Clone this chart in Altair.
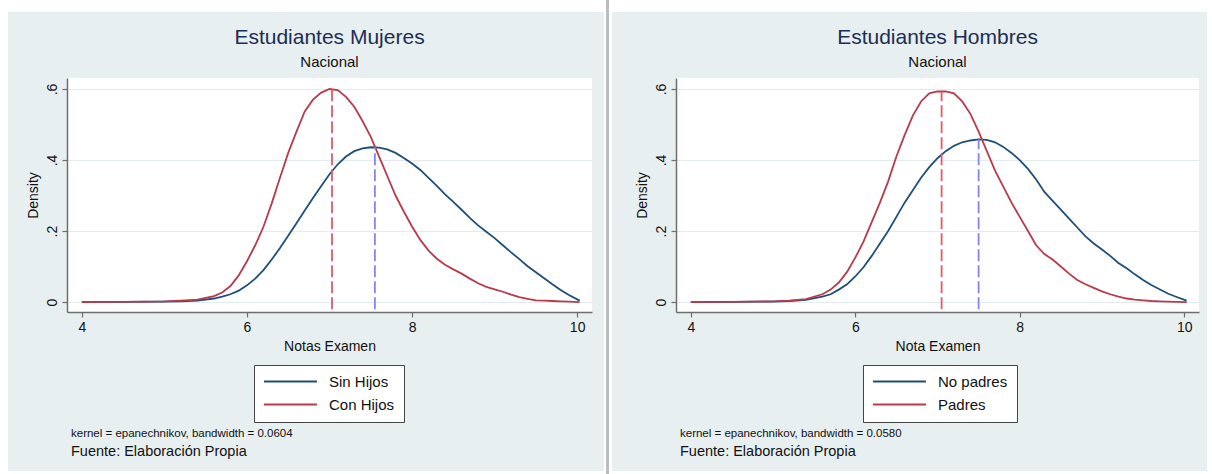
import altair as alt
import pandas as pd

# ---------------- data ----------------
x_grid = [4.0, 4.5, 5.0, 5.2, 5.4, 5.6, 5.7, 5.8, 5.9,
          6.0, 6.1, 6.2, 6.3, 6.4, 6.5, 6.6, 6.7, 6.8, 6.9,
          7.0, 7.1, 7.2, 7.3, 7.4, 7.5, 7.6, 7.7, 7.8, 7.9,
          8.0, 8.1, 8.2, 8.3, 8.4, 8.5, 8.6, 8.7, 8.8, 8.9,
          9.0, 9.1, 9.2, 9.3, 9.4, 9.5, 9.6, 9.7, 9.8, 9.9, 10.03]

# Estudiantes Mujeres
muj_sin_hijos = [0.0, 0.0005, 0.001, 0.002, 0.004, 0.010, 0.015, 0.022, 0.032,
                 0.047, 0.066, 0.090, 0.120, 0.152, 0.187, 0.222, 0.258, 0.293, 0.327,
                 0.360, 0.388, 0.410, 0.425, 0.433, 0.436, 0.435, 0.430, 0.420, 0.406,
                 0.390, 0.372, 0.350, 0.327, 0.303, 0.282, 0.260, 0.237, 0.216, 0.198,
                 0.180, 0.160, 0.140, 0.121, 0.101, 0.084, 0.067, 0.050, 0.034, 0.020, 0.004]
muj_con_hijos = [0.0, 0.0005, 0.002, 0.004, 0.007, 0.017, 0.027, 0.045, 0.075,
                 0.115, 0.160, 0.212, 0.278, 0.350, 0.420, 0.480, 0.537, 0.570, 0.590,
                 0.600, 0.597, 0.578, 0.550, 0.510, 0.465, 0.410, 0.355, 0.300, 0.255,
                 0.213, 0.175, 0.145, 0.122, 0.105, 0.092, 0.080, 0.066, 0.053, 0.043,
                 0.036, 0.029, 0.021, 0.014, 0.009, 0.005, 0.004, 0.003, 0.002, 0.001, 0.0]

# Estudiantes Hombres
hom_no_padres = [0.0, 0.0005, 0.0015, 0.003, 0.006, 0.015, 0.022, 0.035, 0.050,
                 0.072, 0.098, 0.130, 0.165, 0.200, 0.240, 0.280, 0.315, 0.350, 0.380,
                 0.405, 0.425, 0.440, 0.450, 0.455, 0.458, 0.457, 0.450, 0.437, 0.420,
                 0.400, 0.375, 0.345, 0.310, 0.285, 0.260, 0.235, 0.210, 0.185, 0.165,
                 0.148, 0.130, 0.110, 0.095, 0.078, 0.062, 0.048, 0.036, 0.024, 0.015, 0.004]
hom_padres = [0.0, 0.0005, 0.002, 0.004, 0.008, 0.022, 0.035, 0.055, 0.085,
              0.125, 0.170, 0.225, 0.280, 0.340, 0.410, 0.470, 0.525, 0.565, 0.588,
              0.593, 0.593, 0.588, 0.565, 0.530, 0.480, 0.425, 0.370, 0.325, 0.280,
              0.240, 0.200, 0.160, 0.135, 0.120, 0.100, 0.080, 0.062, 0.050, 0.040,
              0.030, 0.022, 0.015, 0.010, 0.007, 0.005, 0.003, 0.002, 0.001, 0.0005, 0.0]

# vertical dashed reference lines: (x position, top of line)
muj_lines_x = [7.55, 7.03]
muj_lines_top = [0.436, 0.602]
hom_lines_x = [7.50, 7.05]
hom_lines_top = [0.458, 0.593]
line_bottom = -0.02

x_ticks = [4, 6, 8, 10]
y_ticks = [0, 0.2, 0.4, 0.6]

panels = [
    dict(title="Estudiantes Mujeres", subtitle="Nacional", xtitle="Notas Examen",
         names=["Sin Hijos", "Con Hijos"], series=[muj_sin_hijos, muj_con_hijos],
         lx=muj_lines_x, ltop=muj_lines_top,
         note="kernel = epanechnikov, bandwidth = 0.0604", width=525),
    dict(title="Estudiantes Hombres", subtitle="Nacional", xtitle="Nota Examen",
         names=["No padres", "Padres"], series=[hom_no_padres, hom_padres],
         lx=hom_lines_x, ltop=hom_lines_top,
         note="kernel = epanechnikov, bandwidth = 0.0580", width=523),
]
source_text = "Fuente: Elaboración Propia"

# ---------------- style ----------------
FONT = "Liberation Sans"
BG = "#e8eff1"
CURVE_COLORS = ["#1f4f78", "#b83a4b"]
DASH_COLORS = ["#8585f2", "#e85868"]
AXIS_GRAY = "#6e6e6e"
H = 234


def panel(p, decorate=False):
    w = p["width"]
    rows = []
    for name, ys in zip(p["names"], p["series"]):
        for xv, yv in zip(x_grid, ys):
            rows.append({"x": xv, "d": yv, "serie": name})
    df = pd.DataFrame(rows)

    xs = alt.Scale(domain=[3.82, 10.18], nice=False, zero=False)
    ys = alt.Scale(domain=[-0.028, 0.631], nice=False, zero=False)

    curves = alt.Chart(df).mark_line(strokeWidth=1.8, clip=True).encode(
        x=alt.X("x:Q", scale=xs, axis=alt.Axis(
            values=x_ticks, format="d", title=p["xtitle"], grid=False,
            domainColor=AXIS_GRAY, domainWidth=1.5, tickColor=AXIS_GRAY,
            tickWidth=1.2, tickSize=5, labelFont=FONT, labelFontSize=14,
            labelColor="#111", labelPadding=3, titleFont=FONT, titleFontSize=14,
            titleFontWeight="normal", titleColor="#111", titlePadding=5)),
        y=alt.Y("d:Q", scale=ys, axis=alt.Axis(
            values=y_ticks, title="Density", labelAngle=270,
            labelExpr="datum.value == 0 ? '0' : replace(format(datum.value, '.1f'), '0.', '.')",
            grid=True, gridColor="#e3ebee", gridWidth=1,
            domainColor=AXIS_GRAY, domainWidth=1.5, tickColor=AXIS_GRAY,
            tickWidth=1.2, tickSize=5, labelFont=FONT, labelFontSize=14,
            labelColor="#111", labelPadding=3, titleFont=FONT, titleFontSize=14,
            titleFontWeight="normal", titleColor="#111", titlePadding=5)),
        color=alt.Color("serie:N", sort=p["names"],
                        scale=alt.Scale(domain=p["names"], range=CURVE_COLORS),
                        legend=alt.Legend(
                            orient="none", legendX=187, legendY=287, title=None,
                            symbolType="stroke", symbolSize=2809, symbolStrokeWidth=2,
                            clipHeight=15,
                            labelFont=FONT, labelFontSize=15, labelColor="#111",
                            strokeColor="#444", fillColor="white", padding=9,
                            rowPadding=7, labelOffset=11, direction="vertical")),
        order="x:Q",
    )

    layers = []
    if decorate:
        one = pd.DataFrame({"k": [0]})
        # invisible rectangle spanning the whole canvas (defines the page size)
        layers.append(alt.Chart(one).mark_rect(opacity=0).encode(
            x=alt.value(-67), x2=alt.value(1145), y=alt.value(-78), y2=alt.value(396)))
        for (x1, x2, y1, y2, c) in [(-67, 1145, -78, -66, "white"),
                                     (-67, -59, -78, 396, "white"),
                                     (1140, 1145, -78, 396, "white"),
                                     (-67, 1145, 393, 396, "white"),
                                     (537, 545, -78, 396, "white"),
                                     (539, 542, -78, 396, "#b9bdbe")]:
            layers.append(alt.Chart(one).mark_rect(color=c).encode(
                x=alt.value(x1), x2=alt.value(x2), y=alt.value(y1), y2=alt.value(y2)))

    layers.append(curves)

    for i in range(2):
        ldf = pd.DataFrame({"x": [p["lx"][i]], "y0": [line_bottom], "y1": [p["ltop"][i]]})
        layers.append(alt.Chart(ldf).mark_rule(
            color=DASH_COLORS[i], strokeWidth=1.8, strokeDash=[12, 4]).encode(
            x="x:Q", y="y0:Q", y2="y1:Q"))

    tdf = pd.DataFrame({"t": [p["title"]], "s": [p["subtitle"]], "n": [p["note"]],
                        "f": [source_text]})
    layers.append(alt.Chart(tdf).mark_text(
        font=FONT, fontSize=21, color="#1c2d57", align="center", baseline="middle").encode(
        text="t:N", x=alt.value(w / 2), y=alt.value(-40)))
    layers.append(alt.Chart(tdf).mark_text(
        font=FONT, fontSize=15, color="#111", align="center", baseline="middle").encode(
        text="s:N", x=alt.value(w / 2), y=alt.value(-16)))
    layers.append(alt.Chart(tdf).mark_text(
        font=FONT, fontSize=11.5, color="#111", align="left", baseline="middle").encode(
        text="n:N", x=alt.value(4), y=alt.value(356)))
    layers.append(alt.Chart(tdf).mark_text(
        font=FONT, fontSize=14.5, color="#111", align="left", baseline="middle").encode(
        text="f:N", x=alt.value(4), y=alt.value(374)))

    return alt.layer(*layers).properties(width=w, height=H)


left = panel(panels[0], decorate=True)
right = panel(panels[1])

chart = alt.hconcat(left, right, spacing=84, bounds="flush").resolve_scale(
    color="independent").resolve_legend(color="independent").properties(
    padding=0).configure(background=BG, font=FONT).configure_view(
    strokeWidth=0, fill="white")

chart.save("out.html", embed_options={"renderer": "svg", "actions": False})
